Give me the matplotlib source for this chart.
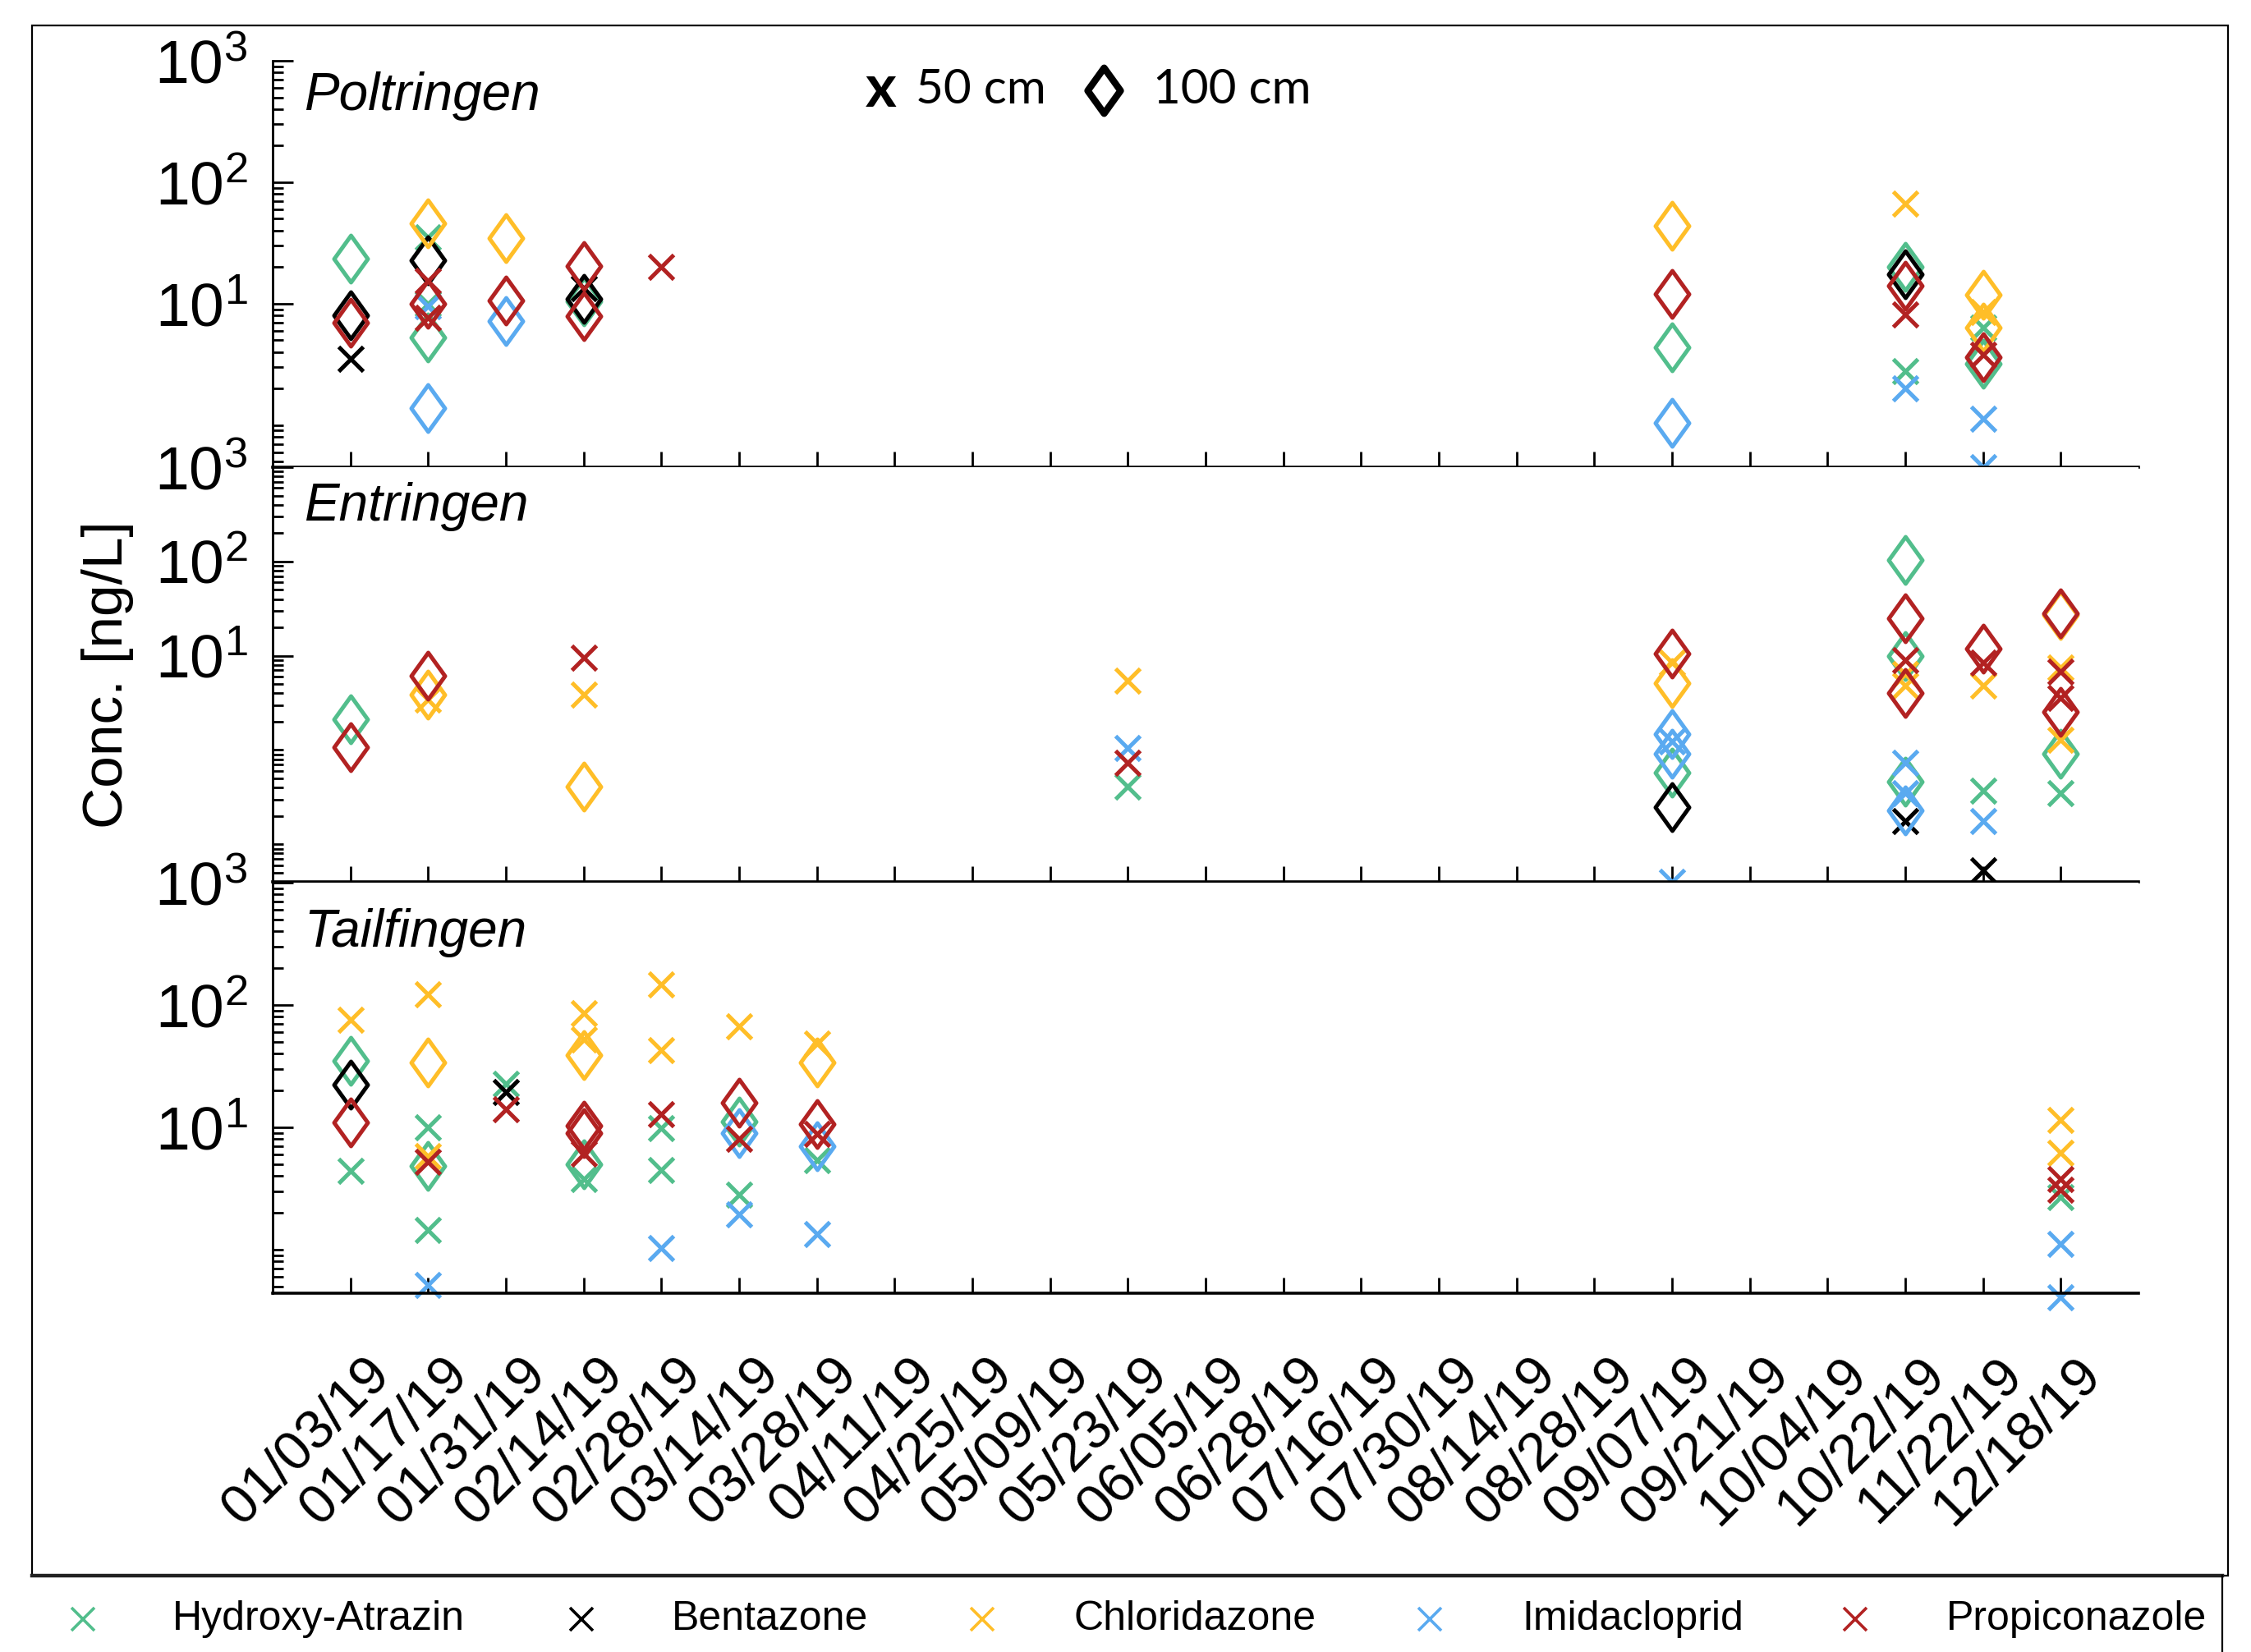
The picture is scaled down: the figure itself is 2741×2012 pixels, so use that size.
import numpy as np
import matplotlib
matplotlib.use("Agg")
import matplotlib.pyplot as plt
from matplotlib.path import Path
from matplotlib.lines import Line2D
from matplotlib.patches import Rectangle
from matplotlib.transforms import blended_transform_factory, ScaledTranslation
from matplotlib.ticker import FixedLocator, LogLocator, NullFormatter

plt.rcParams['font.family'] = ['Liberation Sans', 'DejaVu Sans']
plt.rcParams['mathtext.fontset'] = 'custom'
plt.rcParams['mathtext.rm'] = 'Liberation Sans'
plt.rcParams['mathtext.it'] = 'Liberation Sans:italic'

dates = ["01/03/19", "01/17/19", "01/31/19", "02/14/19", "02/28/19", "03/14/19",
         "03/28/19", "04/11/19", "04/25/19", "05/09/19", "05/23/19", "06/05/19",
         "06/28/19", "07/16/19", "07/30/19", "08/14/19", "08/28/19", "09/07/19",
         "09/21/19", "10/04/19", "10/22/19", "11/22/19", "12/18/19"]
compounds = ["Hydroxy-Atrazin", "Bentazone", "Chloridazone", "Imidacloprid", "Propiconazole"]
colors = ["#52BE8C", "#000000", "#FFBE28", "#5AAAF0", "#B22222"]
sites = ["Poltringen", "Entringen", "Tailfingen"]

# (date, compound, ng/L)  -- 50 cm samples
poltringen_50 = [
    ("01/03/19", "Bentazone", 3.5),
    ("01/17/19", "Hydroxy-Atrazin", 35), ("01/17/19", "Hydroxy-Atrazin", 10),
    ("01/17/19", "Imidacloprid", 9.5), ("01/17/19", "Propiconazole", 15.3),
    ("01/17/19", "Propiconazole", 7.6),
    ("02/14/19", "Bentazone", 13.5),
    ("02/28/19", "Propiconazole", 20),
    ("10/22/19", "Chloridazone", 67), ("10/22/19", "Propiconazole", 8.2),
    ("10/22/19", "Hydroxy-Atrazin", 2.8), ("10/22/19", "Imidacloprid", 2.0),
    ("11/22/19", "Chloridazone", 8.5), ("11/22/19", "Hydroxy-Atrazin", 6.3),
    ("11/22/19", "Propiconazole", 3.8), ("11/22/19", "Imidacloprid", 1.13),
    ("11/22/19", "Imidacloprid", 0.45),
]
# 100 cm samples
poltringen_100 = [
    ("01/03/19", "Hydroxy-Atrazin", 23.5), ("01/03/19", "Bentazone", 8.0),
    ("01/03/19", "Propiconazole", 7.0),
    ("01/17/19", "Chloridazone", 46), ("01/17/19", "Bentazone", 22.7),
    ("01/17/19", "Propiconazole", 10), ("01/17/19", "Hydroxy-Atrazin", 5.3),
    ("01/17/19", "Imidacloprid", 1.38),
    ("01/31/19", "Chloridazone", 34.6), ("01/31/19", "Propiconazole", 10.6),
    ("01/31/19", "Imidacloprid", 7.2),
    ("02/14/19", "Propiconazole", 20.3), ("02/14/19", "Hydroxy-Atrazin", 10.5),
    ("02/14/19", "Bentazone", 11), ("02/14/19", "Propiconazole", 7.9),
    ("09/07/19", "Chloridazone", 43.8), ("09/07/19", "Propiconazole", 12),
    ("09/07/19", "Hydroxy-Atrazin", 4.4), ("09/07/19", "Imidacloprid", 1.04),
    ("10/22/19", "Hydroxy-Atrazin", 20.2), ("10/22/19", "Bentazone", 17.4),
    ("10/22/19", "Propiconazole", 14.1),
    ("11/22/19", "Chloridazone", 11.9), ("11/22/19", "Chloridazone", 6.3),
    ("11/22/19", "Hydroxy-Atrazin", 3.2), ("11/22/19", "Propiconazole", 3.6),
]
entringen_50 = [
    ("01/17/19", "Chloridazone", 3.4),
    ("02/14/19", "Propiconazole", 9.6), ("02/14/19", "Chloridazone", 3.9),
    ("05/23/19", "Chloridazone", 5.4), ("05/23/19", "Imidacloprid", 1.05),
    ("05/23/19", "Propiconazole", 0.73), ("05/23/19", "Hydroxy-Atrazin", 0.41),
    ("09/07/19", "Chloridazone", 8.5), ("09/07/19", "Imidacloprid", 1.23),
    ("09/07/19", "Imidacloprid", 0.04),
    ("10/22/19", "Propiconazole", 9.0), ("10/22/19", "Chloridazone", 6.4),
    ("10/22/19", "Chloridazone", 4.8), ("10/22/19", "Imidacloprid", 0.73),
    ("10/22/19", "Imidacloprid", 0.35), ("10/22/19", "Bentazone", 0.175),
    ("11/22/19", "Propiconazole", 8.5), ("11/22/19", "Chloridazone", 4.8),
    ("11/22/19", "Hydroxy-Atrazin", 0.37), ("11/22/19", "Imidacloprid", 0.175),
    ("11/22/19", "Bentazone", 0.053),
    ("12/18/19", "Chloridazone", 7.5), ("12/18/19", "Propiconazole", 6.8),
    ("12/18/19", "Propiconazole", 3.6), ("12/18/19", "Chloridazone", 1.29),
    ("12/18/19", "Hydroxy-Atrazin", 0.35),
]
entringen_100 = [
    ("01/03/19", "Hydroxy-Atrazin", 2.14), ("01/03/19", "Propiconazole", 1.08),
    ("01/17/19", "Chloridazone", 3.9), ("01/17/19", "Propiconazole", 6.1),
    ("02/14/19", "Chloridazone", 0.41),
    ("09/07/19", "Chloridazone", 5.1), ("09/07/19", "Propiconazole", 10.6),
    ("09/07/19", "Imidacloprid", 1.47), ("09/07/19", "Imidacloprid", 0.92),
    ("09/07/19", "Hydroxy-Atrazin", 0.58), ("09/07/19", "Bentazone", 0.25),
    ("10/22/19", "Hydroxy-Atrazin", 104), ("10/22/19", "Hydroxy-Atrazin", 10),
    ("10/22/19", "Hydroxy-Atrazin", 0.46), ("10/22/19", "Imidacloprid", 0.23),
    ("10/22/19", "Propiconazole", 25), ("10/22/19", "Propiconazole", 4.0),
    ("11/22/19", "Propiconazole", 11.9),
    ("12/18/19", "Chloridazone", 27), ("12/18/19", "Hydroxy-Atrazin", 0.92),
    ("12/18/19", "Propiconazole", 28), ("12/18/19", "Propiconazole", 2.56),
]
tailfingen_50 = [
    ("01/03/19", "Chloridazone", 76), ("01/03/19", "Hydroxy-Atrazin", 4.4),
    ("01/17/19", "Chloridazone", 122), ("01/17/19", "Hydroxy-Atrazin", 10),
    ("01/17/19", "Chloridazone", 5.8), ("01/17/19", "Propiconazole", 5.2),
    ("01/17/19", "Hydroxy-Atrazin", 1.45), ("01/17/19", "Imidacloprid", 0.51),
    ("01/31/19", "Hydroxy-Atrazin", 22.6), ("01/31/19", "Bentazone", 19.3),
    ("01/31/19", "Propiconazole", 14.1),
    ("02/14/19", "Chloridazone", 85), ("02/14/19", "Chloridazone", 52),
    ("02/14/19", "Propiconazole", 6.1), ("02/14/19", "Hydroxy-Atrazin", 3.8),
    ("02/28/19", "Chloridazone", 148), ("02/28/19", "Chloridazone", 43),
    ("02/28/19", "Propiconazole", 12.7), ("02/28/19", "Hydroxy-Atrazin", 9.8),
    ("02/28/19", "Hydroxy-Atrazin", 4.5), ("02/28/19", "Imidacloprid", 1.03),
    ("03/14/19", "Chloridazone", 66.5), ("03/14/19", "Propiconazole", 8.1),
    ("03/14/19", "Hydroxy-Atrazin", 2.8), ("03/14/19", "Imidacloprid", 1.94),
    ("03/28/19", "Chloridazone", 48), ("03/28/19", "Propiconazole", 8.8),
    ("03/28/19", "Hydroxy-Atrazin", 5.4), ("03/28/19", "Imidacloprid", 1.34),
    ("12/18/19", "Chloridazone", 11.5), ("12/18/19", "Chloridazone", 6.2),
    ("12/18/19", "Propiconazole", 3.8), ("12/18/19", "Propiconazole", 3.1),
    ("12/18/19", "Hydroxy-Atrazin", 2.7), ("12/18/19", "Imidacloprid", 1.12),
    ("12/18/19", "Imidacloprid", 0.41),
]
tailfingen_100 = [
    ("01/03/19", "Hydroxy-Atrazin", 35), ("01/03/19", "Bentazone", 22.3),
    ("01/03/19", "Propiconazole", 10.9),
    ("01/17/19", "Chloridazone", 34), ("01/17/19", "Hydroxy-Atrazin", 4.8),
    ("02/14/19", "Chloridazone", 39), ("02/14/19", "Propiconazole", 10.3),
    ("02/14/19", "Propiconazole", 9.0), ("02/14/19", "Hydroxy-Atrazin", 5.0),
    ("03/14/19", "Propiconazole", 16), ("03/14/19", "Hydroxy-Atrazin", 11.1),
    ("03/14/19", "Imidacloprid", 9.0),
    ("03/28/19", "Chloridazone", 34), ("03/28/19", "Propiconazole", 10.6),
    ("03/28/19", "Imidacloprid", 7.0),
]

site_data = [(poltringen_50, poltringen_100),
             (entringen_50, entringen_100),
             (tailfingen_50, tailfingen_100)]
ylims = [(0.45, 1000), (0.04, 1000), (0.44, 1000)]

W, H = 2741, 2012
DPI = 200
fig = plt.figure(figsize=(W / DPI, H / DPI), dpi=DPI)
fig.patch.set_facecolor("white")

def fx(px):
    return px / W

def fy(py):
    return 1 - py / H

# tall diamond marker
diamond = Path([(0, 1), (0.72, 0), (0, -1), (-0.72, 0), (0, 1)],
               [Path.MOVETO, Path.LINETO, Path.LINETO, Path.LINETO, Path.CLOSEPOLY])

panel_px = [(74, 569), (569, 1074), (1075, 1575)]
title_px = [117, 617, 1136]
ax_left, ax_right = 332, 2604
x_pos = np.arange(1, len(dates) + 1)

axes = []
for i, (site, (d50, d100), (top, bot)) in enumerate(zip(sites, site_data, panel_px)):
    ax = fig.add_axes([fx(ax_left), fy(bot), fx(ax_right - ax_left), (bot - top) / H])
    ax.set_yscale("log")
    ax.set_xlim(0, 24)
    ax.set_ylim(*ylims[i])
    ax.spines["top"].set_visible(False)
    ax.spines["right"].set_visible(False)
    ax.spines["left"].set_linewidth(1.0)
    ax.spines["bottom"].set_linewidth(1.3)

    for comp, col in zip(compounds, colors):
        for data, mk, ms in ((d50, "x", 11), (d100, diamond, 20.5)):
            xs = [dates.index(d) + 1 for d, c, v in data if c == comp]
            ys = [v for d, c, v in data if c == comp]
            if xs:
                ax.plot(xs, ys, linestyle="none", marker=mk, ms=ms, mew=1.8,
                        mfc="none", mec=col, clip_on=False)

    ax.set_xticks(x_pos)
    ax.set_xticklabels([])
    ax.tick_params(axis="x", direction="in", length=6.8, width=1.0)
    ax.yaxis.set_major_locator(FixedLocator([10, 100, 1000]))
    ax.set_yticklabels([r"$\mathregular{10^{1}}$", r"$\mathregular{10^{2}}$",
                        r"$\mathregular{10^{3}}$"])
    ax.yaxis.set_minor_locator(LogLocator(base=10, subs=np.arange(1, 10), numticks=50))
    ax.yaxis.set_minor_formatter(NullFormatter())
    ax.tick_params(axis="y", which="major", direction="in", length=9, width=1.0,
                   labelsize=27, pad=11)
    ax.tick_params(axis="y", which="minor", direction="in", length=4.7, width=1.0)

    fig.text(fx(370), fy(title_px[i]), site, fontsize=23, style="italic",
             ha="left", va="center")
    axes.append(ax)

# rotated date labels under the last panel
ax = axes[-1]
trans = blended_transform_factory(ax.transData, ax.transAxes) + \
    ScaledTranslation(14 / 72, -32 / 72, fig.dpi_scale_trans)
for xp, lab in zip(x_pos, dates):
    ax.text(xp, 0, lab, transform=trans, rotation=45, rotation_mode="anchor",
            ha="right", va="center", fontsize=24)

fig.text(fx(131), fy(822), "Conc. [ng/L]", rotation=90, fontsize=25,
         ha="center", va="center")

# depth legend at top
fig.text(fx(1073), fy(110), "x", fontsize=26, fontweight="bold",
         family="Lato", ha="center", va="center")
fig.text(fx(1115), fy(110), "50 cm", fontsize=21, family="Lato",
         ha="left", va="center")
fig.add_artist(Line2D([fx(1344)], [fy(110)], marker=diamond, ms=20, mew=3,
                      mfc="none", mec="black", linestyle="none"))
fig.text(fx(1404), fy(110), "100 cm", fontsize=21, family="Lato",
         ha="left", va="center")

# outer frame and compound legend box
fig.add_artist(Rectangle((fx(39), fy(1919)), fx(2713 - 39), (1919 - 31) / H,
                         fill=False, edgecolor="black", lw=0.8))
fig.add_artist(Line2D([fx(39), fx(2706)], [fy(1919), fy(1919)], color="#222222", lw=1.6))
fig.add_artist(Line2D([fx(2706), fx(2706)], [fy(1919), 0], color="black", lw=0.8))

leg_marker_x = [101, 708, 1196, 1741, 2259]
leg_text_x = [210, 818, 1308, 1853, 2370]
for comp, col, mx, tx in zip(compounds, colors, leg_marker_x, leg_text_x):
    fig.add_artist(Line2D([fx(mx)], [fy(1972)], marker="x", ms=10, mew=1.3,
                          color=col, linestyle="none"))
    fig.text(fx(tx), fy(1972), comp, fontsize=18, ha="left", va="center")

fig.savefig("out.png", dpi=DPI)
